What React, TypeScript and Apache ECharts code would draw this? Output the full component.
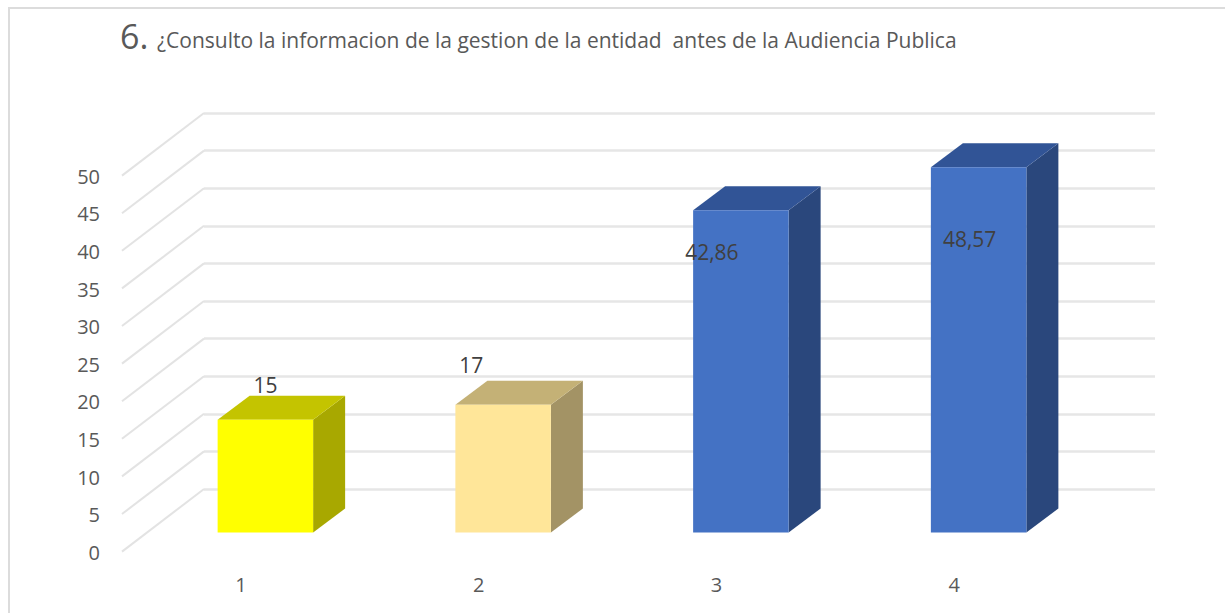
import React, { useEffect, useRef } from "react";
import * as echarts from "echarts";

const categories = ["1", "2", "3", "4"];
const values = [15, 17, 42.86, 48.57];
const valueLabels = ["15", "17", "42,86", "48,57"];
const ticks = [0, 5, 10, 15, 20, 25, 30, 35, 40, 45, 50];
const frontColors = ["#FFFF00", "#FFE699", "#4472C4", "#4472C4"];
const topColors = ["#C4C400", "#C4B176", "#315496", "#315496"];
const sideColors = ["#A8A800", "#A39365", "#2A477C", "#2A477C"];
const titleNumber = "6.";
const titleText = "¿Consulto la informacion de la gestion de la entidad  antes de la Audiencia Publica";

const FONT = "'Open Sans', sans-serif";
const GRID_LEFT = 204, GRID_W = 951, GRID_TOP = 113, GRID_H = 376;
const FRONT_DX = -82, FRONT_DY = 62.6;
const BAR_DX = -57.5, BAR_DY = 43.5, BAR_W = 95.5, DEPTH_X = 32, DEPTH_Y = -24;
const LABEL_OFFSETS = [[0, -35], [-32, -40], [-29, 42], [-9, 72]];

export default function App() {
  const ref = useRef<HTMLDivElement>(null);
  useEffect(() => {
    const chart = echarts.init(ref.current!, null, { renderer: "svg" });
    chart.setOption({
      animation: false,
      backgroundColor: "#fff",
      graphic: [
        { type: "polyline", silent: true, shape: { points: [[9, 613], [9, 8], [1225, 8]] }, style: { stroke: "#DCDCDC", lineWidth: 2, fill: "none" } },
        { type: "text", x: 120, y: 36, style: { text: titleNumber, font: `34px ${FONT}`, fill: "#595959", verticalAlign: "middle" } },
        { type: "text", x: 157, y: 40, style: { text: titleText, font: `21px ${FONT}`, fill: "#595959", verticalAlign: "middle" } },
      ],
      grid: [
        { left: GRID_LEFT, top: GRID_TOP, width: GRID_W, height: GRID_H },
        { left: GRID_LEFT + FRONT_DX, top: GRID_TOP + FRONT_DY + 0.6, width: GRID_W, height: GRID_H },
      ],
      xAxis: [
        { type: "category", gridIndex: 0, data: categories, axisLine: { show: false }, axisTick: { show: false }, axisLabel: { show: false } },
        { type: "category", gridIndex: 1, data: categories, axisLine: { show: false }, axisTick: { show: false },
          axisLabel: { margin: 22, fontSize: 20, fontFamily: FONT, color: "#595959" } },
      ],
      yAxis: [
        { type: "value", gridIndex: 0, min: 0, max: 50, interval: 5, axisLine: { show: false }, axisTick: { show: false }, axisLabel: { show: false },
          splitLine: { lineStyle: { color: "#E6E6E6", width: 2.5 } } },
        { type: "value", gridIndex: 1, min: 0, max: 50, interval: 5, axisLine: { show: false }, axisTick: { show: false }, splitLine: { show: false },
          axisLabel: { margin: 22, fontSize: 20, fontFamily: FONT, color: "#595959" } },
      ],
      series: [
        {
          type: "custom", xAxisIndex: 0, yAxisIndex: 0, silent: true, z: 1,
          data: ticks.map((t) => [0, t]),
          renderItem: (_: any, api: any) => {
            const y = api.coord([0, api.value(1)])[1];
            return { type: "line", shape: { x1: GRID_LEFT, y1: y, x2: GRID_LEFT + FRONT_DX, y2: y + FRONT_DY }, style: { stroke: "#E3E3E3", lineWidth: 2 } };
          },
        },
        {
          type: "custom", xAxisIndex: 0, yAxisIndex: 0, silent: true, z: 3,
          data: values.map((v, i) => [i, v]),
          renderItem: (params: any, api: any) => {
            const i = params.dataIndex;
            const top = api.coord([i, api.value(1)]);
            const base = api.coord([i, 0]);
            const xl = top[0] + BAR_DX - BAR_W / 2, xr = xl + BAR_W;
            const yt = top[1] + BAR_DY, yb = base[1] + BAR_DY;
            const [ox, oy] = LABEL_OFFSETS[i];
            return {
              type: "group",
              children: [
                { type: "polygon", shape: { points: [[xr, yt], [xr + DEPTH_X, yt + DEPTH_Y], [xr + DEPTH_X, yb + DEPTH_Y], [xr, yb]] }, style: { fill: sideColors[i] } },
                { type: "polygon", shape: { points: [[xl, yt], [xl + DEPTH_X, yt + DEPTH_Y], [xr + DEPTH_X, yt + DEPTH_Y], [xr, yt]] }, style: { fill: topColors[i] } },
                { type: "rect", shape: { x: xl, y: yt, width: BAR_W, height: yb - yt }, style: { fill: frontColors[i] } },
                { type: "text", x: (xl + xr) / 2 + ox, y: yt + oy, style: { text: valueLabels[i], font: `21px ${FONT}`, fill: "#404040", align: "center", verticalAlign: "middle" } },
              ],
            };
          },
        },
      ],
    });
    return () => chart.dispose();
  }, []);
  return <div ref={ref} style={{ position: "fixed", left: 0, top: 0, width: 1225, height: 613 }} />;
}
